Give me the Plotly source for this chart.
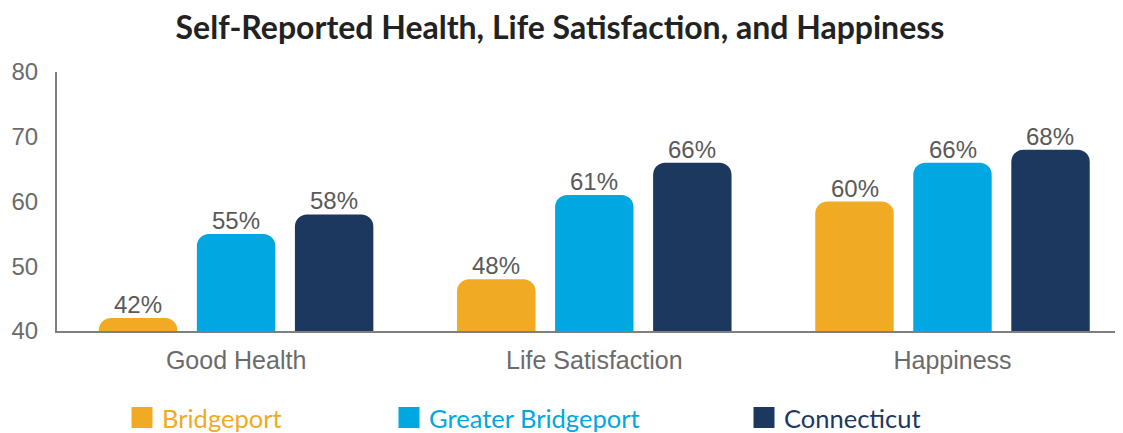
import plotly.graph_objects as go

categories = ["Good Health", "Life Satisfaction", "Happiness"]
series_names = ["Bridgeport", "Greater Bridgeport", "Connecticut"]
bridgeport = [42, 48, 60]
greater_bridgeport = [55, 61, 66]
connecticut = [58, 66, 68]
colors = ["#F0AA23", "#00A7E1", "#1D385F"]
y_ticks = [40, 50, 60, 70, 80]

OFF = 8  # page body margin in the browser
W, H = 1123 - OFF, 433 - OFF
values = [bridgeport, greater_bridgeport, connecticut]
legend_ids = ["legend", "legend2", "legend3"]
legend_px = [122, 389, 744]
SLOT_PX = 97.8  # pixel distance between neighbouring bars in a group

fig = go.Figure()
annotations = []
for si, (name, vals, col, lid) in enumerate(zip(series_names, values, colors, legend_ids)):
    fig.add_trace(go.Bar(
        x=categories, y=vals, name=name,
        marker=dict(color=col, line=dict(width=0)),
        showlegend=False,
    ))
    fig.add_trace(go.Scatter(
        x=[None], y=[None], mode="markers",
        name=f"<span style='color:{col}'>{name}</span>",
        marker=dict(symbol="square", size=16, color=col, line=dict(color=col, width=5)),
        legend=lid, showlegend=True,
    ))
    for cat, v in zip(categories, vals):
        annotations.append(dict(
            x=cat, y=v, xref="x", yref="y", text=f"{v}%", showarrow=False,
            xanchor="center", yanchor="bottom", xshift=(si - 1) * SLOT_PX, yshift=-2,
            font=dict(family="Liberation Sans, Arial", size=24, color="#595959"),
        ))

layout_legends = {}
for lid, lx in zip(legend_ids, legend_px):
    layout_legends[lid] = dict(
        x=(lx - OFF) / W, y=1 - (418 - OFF) / H, xref="container", yref="container",
        xanchor="left", yanchor="middle",
        orientation="h", font=dict(family="Lato", size=25.5),
        bgcolor="rgba(0,0,0,0)", itemsizing="trace",
    )

fig.update_layout(
    width=W, height=H,
    margin=dict(l=57 - OFF, r=0, t=72 - OFF, b=H - (331 - OFF), autoexpand=False),
    paper_bgcolor="white", plot_bgcolor="white",
    barmode="group", bargap=0.179, bargroupgap=0.2, barcornerradius=12,
    annotations=annotations,
    title=dict(text="<b>Self-Reported Health, Life Satisfaction, and Happiness</b>",
               x=(560 - OFF) / W, xanchor="center", xref="container",
               y=1 - (28 - OFF) / H, yanchor="middle", yref="container",
               font=dict(family="Lato", size=32, color="#222222")),
    xaxis=dict(range=[-0.5, 2.476], showline=True, linecolor="#7f7f7f", linewidth=2,
               ticks="outside", ticklen=6, tickcolor="rgba(0,0,0,0)",
               tickfont=dict(family="Liberation Sans, Arial", size=25, color="#6b6b6b"),
               showgrid=False, fixedrange=True, automargin=False),
    yaxis=dict(range=[40, 80], tickvals=y_ticks, showline=True, linecolor="#7f7f7f", linewidth=2,
               ticks="outside", ticklen=12, tickcolor="rgba(0,0,0,0)",
               tickfont=dict(family="Liberation Sans, Arial", size=24, color="#6b6b6b"),
               showgrid=False, zeroline=False, automargin=False),
    **layout_legends,
)

fig.write_html("out.html")
